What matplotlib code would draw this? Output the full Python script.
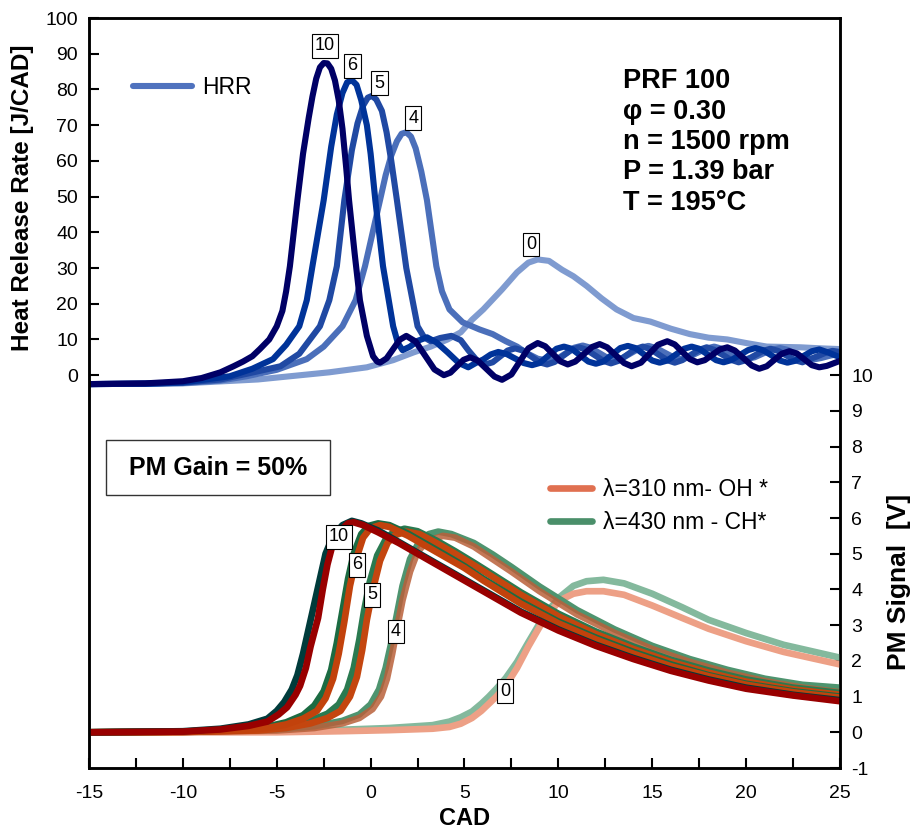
import numpy as np
import matplotlib
matplotlib.use('Agg')
import matplotlib.pyplot as plt
from matplotlib.lines import Line2D
from matplotlib.patches import Rectangle
from matplotlib.ticker import MultipleLocator

plt.rcParams['font.family'] = ['Liberation Sans', 'DejaVu Sans']
plt.rcParams['axes.unicode_minus'] = False

# ---- heat release rate [J/CAD], one curve per label ----
hrr_x10 = [-15, -12, -10, -9, -8, -7.3, -6.8, -6.3, -5.9, -5.4, -5.0, -4.7, -4.5, -4.3, -3.9, -3.6, -3.3, -3.1,
           -2.9, -2.7, -2.5, -2.3, -2.1, -1.9, -1.7, -1.5, -1.3, -1.15, -0.85, -0.57, -0.2, 0.13, 0.35, 0.5,
           0.85, 1.2, 1.55, 1.9, 2.4, 2.9, 3.4, 3.9, 4.25, 4.6, 4.95, 5.3, 5.7, 6.15, 6.6, 7.0,
           7.5, 7.95, 8.4, 8.9, 9.3, 9.7, 10.1, 10.5, 10.9, 11.35, 11.8, 12.2, 12.6, 13.05, 13.5,
           13.9, 14.4, 14.85, 15.3, 15.8, 16.2, 16.6, 17.0, 17.4, 17.8, 18.2, 18.6, 19.0, 19.4,
           19.85, 20.3, 20.7, 21.1, 21.5, 21.9, 22.3, 22.7, 23.1, 23.5, 23.9, 24.3, 24.7, 25]
hrr_y10 = [-2.5, -2.3, -1.7, -0.8, 0.8, 2.5, 3.8, 5.3, 7.3, 10, 13.7, 18, 23.5, 30.5, 49, 62, 72, 78,
           83, 86.2, 87.4, 87.3, 85.8, 82.5, 77, 69, 58, 49, 34, 21, 11, 5.3, 3.8, 3.5,
           4.7, 7.3, 9.9, 11, 9.4, 5.5, 1.6, 0.0, 0.7, 2.5, 4.3, 5.0, 4.1, 1.85, -0.4, -1.3,
           0.2, 3.85, 7.5, 9.0, 8.1, 6.0, 3.9, 3.0, 3.8, 5.85, 7.9, 8.7, 7.8, 5.6, 3.4,
           2.5, 3.5, 6.0, 8.5, 9.5, 8.6, 6.55, 4.5, 3.6, 4.2, 5.7, 7.2, 7.8, 6.9,
           4.8, 2.7, 1.8, 2.5, 4.25, 6.0, 6.7, 6.1, 4.45, 2.8, 2.2, 2.6, 3.4, 4.0]

hrr_x6 = [-15, -12, -10, -8.5, -7.5, -6.3, -5.2, -4.5, -3.8, -3.4, -3.1, -2.5, -2.1, -1.8, -1.5,
          -1.25, -1.0, -0.75, -0.5, -0.2, 0.0, 0.25, 0.66, 1.2, 1.45, 1.7, 2.1, 2.5, 3.0, 3.5, 4.1,
          4.7, 5.2, 5.6, 6.0, 6.4, 6.8,
          7.25, 7.7, 8.15, 8.6, 9.0, 9.45, 9.9, 10.3, 10.7, 11.15, 11.6, 12.0, 12.4, 12.85, 13.3,
          13.7, 14.1, 14.55, 15.0, 15.4, 15.8, 16.25, 16.7, 17.1, 17.5, 17.95, 18.4, 18.8, 19.2,
          19.65, 20.1, 20.5, 20.9, 21.35, 21.8, 22.2, 22.6, 23.05, 23.5, 23.9, 24.4, 25]
hrr_y6 = [-2.5, -2.4, -2.0, -1.0, -0.3, 1.8, 4.5, 8.5, 13.7, 21, 30.5, 49, 64, 73, 79,
          82, 82.6, 81.3, 77, 70, 62, 49, 30.5, 13.7, 9.0, 7.0, 8.0, 9.6, 10.6, 9.2, 6.4,
          3.4, 2.2, 3.4, 4.4, 5.8, 6.5,
          5.9, 4.65, 3.4, 2.8, 3.4, 5.4, 7.4, 8.0, 7.4, 5.6, 3.8, 3.2, 3.8, 5.7, 7.6,
          8.2, 7.6, 5.85, 4.1, 3.5, 4.1, 5.75, 7.4, 8.0, 7.4, 5.8, 4.2, 3.6, 4.2,
          5.6, 7.0, 7.6, 7.0, 5.55, 4.1, 3.5, 4.0, 5.35, 6.7, 7.2, 6.3, 5.0]

hrr_x5 = [-15, -12, -10, -8, -6.5, -4.8, -3.8, -2.7, -2.2, -1.8, -1.4, -1.0, -0.7, -0.4, -0.15,
          0.07, 0.3, 0.6, 0.85, 1.1, 1.4, 1.9, 2.5, 2.85, 3.2, 3.7, 4.3, 4.8, 5.2, 5.65, 6.1,
          6.5, 6.9, 7.3, 7.7, 8.1, 8.55,
          9.0, 9.4, 9.8, 10.25, 10.7, 11.1, 11.5, 11.95, 12.4, 12.8, 13.2, 13.65, 14.1, 14.5,
          14.9, 15.35, 15.8, 16.2, 16.6, 17.05, 17.5, 17.9, 18.3, 18.75, 19.2, 19.6, 20.0, 20.45,
          20.9, 21.3, 21.7, 22.15, 22.6, 23.0, 23.4, 23.8, 24.2, 24.6, 25]
hrr_y5 = [-2.5, -2.4, -2.1, -1.2, 0.5, 2.5, 6, 13.7, 21, 30.5, 49, 63, 70.5, 75.5, 77.7,
          78.2, 77.2, 74, 68, 60, 49, 30, 13.7, 10.6, 9.5, 10.4, 11, 9.8, 7.0, 4.2, 3.0,
          3.6, 5.25, 6.9, 7.5, 6.9, 5.25,
          3.6, 3.0, 3.7, 5.4, 7.1, 7.8, 7.1, 5.55, 4.0, 3.3, 4.0, 5.65, 7.3, 8.0,
          7.3, 5.75, 4.2, 3.5, 4.2, 5.65, 7.1, 7.8, 7.1, 5.7, 4.3, 3.6, 4.2, 5.5,
          6.8, 7.4, 6.8, 5.5, 4.2, 3.6, 4.5, 5.3, 6.2, 6.8, 6.5]

hrr_x4 = [-15, -12, -10, -8, -6.6, -5, -3.4, -2.5, -1.5, -0.8, -0.3, 0.5, 0.8, 1.1, 1.4, 1.65,
          1.9, 2.15, 2.4, 2.7, 3.0, 3.5, 3.8, 4.2, 4.9, 5.8, 6.5, 7.2, 7.8, 8.3, 8.9, 9.5, 9.95,
          10.4, 10.85, 11.3,
          11.7, 12.15, 12.6, 13.0, 13.45, 13.9, 14.35, 14.8, 15.2, 15.65, 16.1, 16.5, 16.95,
          17.4, 17.85, 18.3, 18.7, 19.15, 19.6, 20.0, 20.45, 20.9, 21.35, 21.8, 22.2, 22.65,
          23.1, 23.5, 24.0, 24.5, 25]
hrr_y4 = [-2.5, -2.4, -2.2, -1.5, -0.3, 1.5, 4.5, 8, 13.7, 21, 30.5, 49, 56, 61.5, 65.5, 67.6,
          68, 66.8, 63.5, 57, 49, 30.5, 23.5, 18.4, 14.8, 12.8, 11.5, 9.5, 8.0, 6.2, 4.6, 4.0, 4.6,
          6.15, 7.7, 8.3,
          7.7, 6.3, 4.9, 4.3, 4.9, 6.25, 7.6, 8.2, 7.6, 6.35, 5.1, 4.5, 5.1,
          6.25, 7.4, 8.0, 7.4, 6.25, 5.1, 4.5, 5.0, 6.05, 7.1, 7.6, 7.1, 5.95,
          4.8, 4.3, 4.8, 5.5, 6.0]

hrr_x0 = [-15, -12, -10, -6, -2.2, -0.2, 1.2, 2.3, 3.2, 4.1, 4.8, 5.4, 6.0, 7.0, 7.8, 8.4, 8.9,
          9.5, 10.2, 10.8, 11.5, 12.3, 13.1, 14.0, 14.9, 16.0, 17.0, 18.0, 19.0, 20.0, 21.1, 22.0,
          22.9, 24.0, 25]
hrr_y0 = [-2.5, -2.4, -2.3, -1.2, 0.8, 2.2, 4.2, 6.4, 8.0, 10, 12, 15.5, 18.4, 24, 28.8, 31.5, 32.4,
          32, 29.5, 27.7, 25, 21.5, 18.4, 16, 15, 13, 11.5, 10.5, 10, 9, 8, 7.9,
          7.8, 7.5, 7.3]

# ---- PM signal [V]: OH* (310 nm) and CH* (430 nm) ----
oh_x10 = [-15, -10, -8, -6.5, -5.5, -4.9, -4.45, -4.0, -3.76, -3.45, -3.2, -2.8, -2.55, -2.3, -2.0,
          -1.6, -1.2, -0.9, -0.4, 0.4, 1.5, 3.0, 4.5, 6, 8, 10, 12, 14, 16, 18, 20, 22.5, 25]
oh_y10 = [0, 0.02, 0.08, 0.18, 0.3, 0.5, 0.7, 1.05, 1.3, 1.8, 2.4, 3.2, 4.0, 4.7, 5.3,
          5.65, 5.85, 5.88, 5.8, 5.6, 5.3, 4.85, 4.4, 3.95, 3.35, 2.85, 2.42, 2.05, 1.72, 1.45, 1.22, 1.03, 0.87]
ch_x10 = [-15, -10, -8, -6.5, -5.5, -5.0, -4.6, -4.2, -3.9, -3.6, -3.3, -3.0, -2.7, -2.4, -2.0,
          -1.5, -1.0, -0.5, 0.4, 1.5, 3, 4.5, 6, 8, 10, 12, 14, 16, 18, 20, 22.5, 25]
ch_y10 = [0, 0.03, 0.1, 0.22, 0.38, 0.6, 0.85, 1.2, 1.6, 2.2, 2.9, 3.6, 4.3, 5.0, 5.5,
          5.8, 5.92, 5.85, 5.65, 5.33, 4.88, 4.43, 3.98, 3.38, 2.88, 2.45, 2.08, 1.75, 1.48, 1.25, 1.05, 0.9]

oh_x6 = [-15, -10, -7, -5.5, -4.5, -3.6, -2.86, -2.4, -2.0, -1.7, -1.4, -1.1, -0.8, -0.4, 0.0, 0.5,
         1.0, 2.0, 3.0, 4.0, 5.0, 6.0, 8, 10, 12, 14, 16, 18, 20, 22.5, 25]
oh_y6 = [0, 0.01, 0.05, 0.12, 0.22, 0.38, 0.6, 0.95, 1.5, 2.2, 3.1, 4.1, 4.8, 5.45, 5.72, 5.8,
         5.75, 5.5, 5.2, 4.9, 4.6, 4.25, 3.6, 3.05, 2.6, 2.2, 1.85, 1.57, 1.33, 1.12, 0.97]
ch_x6 = [-15, -10, -7, -5.5, -4.5, -3.6, -3.0, -2.5, -2.1, -1.8, -1.5, -1.2, -0.9, -0.5, -0.1, 0.4,
         1.0, 2.0, 3.0, 4.0, 5.0, 6.0, 8, 10, 12, 14, 16, 18, 20, 22.5, 25]
ch_y6 = [0, 0.02, 0.07, 0.16, 0.28, 0.48, 0.75, 1.15, 1.75, 2.5, 3.4, 4.3, 5.0, 5.55, 5.78, 5.85,
         5.8, 5.56, 5.26, 4.96, 4.65, 4.3, 3.66, 3.1, 2.65, 2.25, 1.9, 1.6, 1.36, 1.15, 1.0]

oh_x5 = [-15, -10, -6, -4.5, -3.2, -2.3, -1.6, -1.1, -0.73, -0.45, -0.2, 0.1, 0.5, 0.9, 1.3, 1.9,
         2.6, 3.5, 4.5, 5.5, 6.5, 8, 10, 12, 14, 16, 18, 20, 22.5, 25]
oh_y5 = [0, 0.01, 0.05, 0.12, 0.25, 0.4, 0.6, 1.0, 1.55, 2.3, 3.15, 3.95, 4.8, 5.3, 5.52, 5.62,
         5.55, 5.3, 5.0, 4.68, 4.35, 3.85, 3.25, 2.75, 2.33, 1.97, 1.67, 1.42, 1.2, 1.05]
ch_x5 = [-15, -10, -6, -4.5, -3.2, -2.3, -1.7, -1.25, -0.9, -0.6, -0.35, -0.05, 0.35, 0.8, 1.2, 1.8,
         2.5, 3.5, 4.5, 5.5, 6.5, 8, 10, 12, 14, 16, 18, 20, 22.5, 25]
ch_y5 = [0, 0.02, 0.08, 0.17, 0.33, 0.52, 0.78, 1.2, 1.8, 2.6, 3.4, 4.2, 4.95, 5.4, 5.6, 5.7,
         5.63, 5.37, 5.07, 4.75, 4.42, 3.92, 3.32, 2.82, 2.4, 2.03, 1.73, 1.48, 1.25, 1.1]

oh_x4 = [-15, -10, -5, -3, -1.5, -0.6, 0.1, 0.55, 0.87, 1.15, 1.4, 1.7, 2.1, 2.5, 3.0, 3.85,
         4.5, 5.5, 6.5, 7.5, 9, 11, 13, 15, 17, 19, 21, 23, 25]
oh_y4 = [0, 0.01, 0.05, 0.12, 0.25, 0.4, 0.65, 1.0, 1.5, 2.2, 2.9, 3.7, 4.5, 5.05, 5.35, 5.5,
         5.45, 5.2, 4.85, 4.5, 3.95, 3.3, 2.78, 2.33, 1.97, 1.67, 1.43, 1.25, 1.12]
ch_x4 = [-15, -10, -5, -3, -1.5, -0.6, 0.0, 0.45, 0.8, 1.1, 1.4, 1.7, 2.1, 2.6, 3.1, 3.6,
         4.3, 5.5, 6.5, 7.5, 9, 11, 13, 15, 17, 19, 21, 23, 25]
ch_y4 = [0, 0.02, 0.08, 0.17, 0.32, 0.5, 0.78, 1.2, 1.8, 2.5, 3.3, 4.1, 4.85, 5.35, 5.55, 5.62,
         5.55, 5.3, 4.98, 4.63, 4.08, 3.42, 2.88, 2.42, 2.05, 1.75, 1.5, 1.33, 1.25]

oh_x0 = [-15, -5, -1.6, 1, 3.3, 4.2, 4.8, 5.4, 5.9, 6.3, 6.7, 7.2, 7.8, 8.4, 9.0, 9.6, 10.1, 10.8,
         11.5, 12.4, 13.5, 15, 16.6, 18, 20, 22, 25]
oh_y0 = [0, 0.0, 0.03, 0.06, 0.1, 0.15, 0.24, 0.4, 0.6, 0.8, 1.0, 1.3, 1.8, 2.4, 2.95, 3.4, 3.7,
         3.88, 3.95, 3.95, 3.85, 3.55, 3.2, 2.9, 2.55, 2.25, 1.9]
ch_x0 = [-15, -5, -1.6, 1, 3.3, 4.2, 4.8, 5.4, 5.9, 6.3, 6.7, 7.2, 7.8, 8.4, 9.0, 9.6, 10.1, 10.8,
         11.5, 12.4, 13.5, 15, 16.6, 18, 20, 22, 25]
ch_y0 = [0, 0.02, 0.07, 0.12, 0.2, 0.3, 0.42, 0.58, 0.8, 1.0, 1.22, 1.52, 1.97, 2.52, 3.05, 3.5, 3.8,
         4.1, 4.23, 4.27, 4.17, 3.88, 3.5, 3.15, 2.78, 2.45, 2.09]

params_text = 'PRF 100\nφ = 0.30\nn = 1500 rpm\nP = 1.39 bar\nT = 195°C'

# ---- figure ----
fig = plt.figure(figsize=(9.14, 8.31), dpi=100)
ax = fig.add_axes([0.0974, 0.0758, 0.8216, 0.9025])
ax2 = ax.twinx()

lw_h = 4.4
ax.plot(hrr_x0, hrr_y0, color='#7f9bd0', lw=lw_h)
ax.plot(hrr_x4, hrr_y4, color='#4b6fba', lw=lw_h)
ax.plot(hrr_x5, hrr_y5, color='#2049a3', lw=lw_h)
ax.plot(hrr_x6, hrr_y6, color='#003399', lw=lw_h)
ax.plot(hrr_x10, hrr_y10, color='#000066', lw=lw_h)

lw_p = 4.8
ax2.plot(ch_x0, ch_y0, color='#84b99d', lw=lw_p)
ax2.plot(oh_x0, oh_y0, color='#eda086', lw=lw_p)
ax2.plot(ch_x4, ch_y4, color='#4e946f', lw=lw_p)
ax2.plot(oh_x4, oh_y4, color='#b9603a', lw=lw_p, alpha=0.85)
ax2.plot(ch_x5, ch_y5, color='#2a7a50', lw=lw_p)
ax2.plot(oh_x5, oh_y5, color='#c4460f', lw=lw_p)
ax2.plot(ch_x6, ch_y6, color='#1b6b42', lw=lw_p)
ax2.plot(oh_x6, oh_y6, color='#c2420c', lw=lw_p)
ax2.plot(ch_x10, ch_y10, color='#003b3b', lw=lw_p)
ax2.plot(oh_x10, oh_y10, color='#990000', lw=lw_p)

# axes ranges and ticks
ax.set_xlim(-15, 25)
ax.set_ylim(-110, 100)
ax2.set_ylim(-1, 20)
ax.set_xticks(np.arange(-15, 26, 5))
ax.xaxis.set_minor_locator(MultipleLocator(2.5))
ax.set_yticks(np.arange(0, 101, 10))
ax2.set_yticks(np.arange(-1, 11, 1))

ax.tick_params(axis='x', which='both', direction='in', length=7, width=1.5,
               labelsize=14, pad=12, top=False)
ax.tick_params(axis='y', direction='in', length=7, width=1.5, labelsize=14, pad=8)
ax2.tick_params(axis='y', direction='in', length=7, width=1.5, labelsize=14, pad=8)
for a in (ax, ax2):
    for s in a.spines.values():
        s.set_linewidth(1.8)

ax.set_xlabel('CAD', fontsize=17, fontweight='bold')
ax.xaxis.set_label_coords(0.5, -0.052)
ax.set_ylabel('Heat Release Rate [J/CAD]', fontsize=17.5, fontweight='bold')
ax.yaxis.set_label_coords(-0.073, 0.76)
ax2.set_ylabel('PM Signal  [V]', fontsize=19, fontweight='bold')
ax2.yaxis.set_label_coords(1.062, 0.248)

# curve labels
box = dict(boxstyle='square,pad=0.18', fc='white', ec='black', lw=0.8)
for lab, x, y in [('10', -2.43, 92.2), ('6', -0.98, 86.6), ('5', 0.46, 81.8),
                  ('4', 2.27, 72.0), ('0', 8.54, 36.6)]:
    ax.text(x, y, lab, fontsize=13, ha='center', va='center', bbox=box, zorder=5)
for lab, x, y in [('10', -1.68, 5.47), ('6', -0.73, 4.69), ('5', 0.07, 3.85),
                  ('4', 1.35, 2.82), ('0', 7.16, 1.15)]:
    ax2.text(x, y, lab, fontsize=13, ha='center', va='center', bbox=box, zorder=5)

# legends
h_hrr = [Line2D([], [], color='#4f72be', lw=4.4, solid_capstyle='round')]
ax.legend(h_hrr, ['HRR'], loc='center left', bbox_to_anchor=(0.058, 0.907),
          frameon=False, fontsize=16.5, handlelength=2.6, handletextpad=0.45,
          borderpad=0, borderaxespad=0)
h_pm = [Line2D([], [], color='#e07050', lw=4.8, solid_capstyle='round'),
        Line2D([], [], color='#4a8f6a', lw=4.8, solid_capstyle='round')]
ax2.legend(h_pm, ['λ=310 nm- OH *', 'λ=430 nm - CH*'], loc='center left',
           bbox_to_anchor=(0.614, 0.349), frameon=False, fontsize=16.5,
           handlelength=1.85, handletextpad=0.45, labelspacing=0.42,
           borderpad=0, borderaxespad=0)

ax.text(0.711, 0.933, params_text, transform=ax.transAxes, fontsize=19.5,
        fontweight='bold', va='top', ha='left', linespacing=1.22)

ax.add_patch(Rectangle((0.0226, 0.364), 0.298, 0.0733, transform=ax.transAxes,
                       fill=False, ec='#333333', lw=1.0))
ax.text(0.172, 0.40, 'PM Gain = 50%', transform=ax.transAxes, fontsize=18,
        fontweight='bold', ha='center', va='center')

fig.savefig('out.png', dpi=100)
